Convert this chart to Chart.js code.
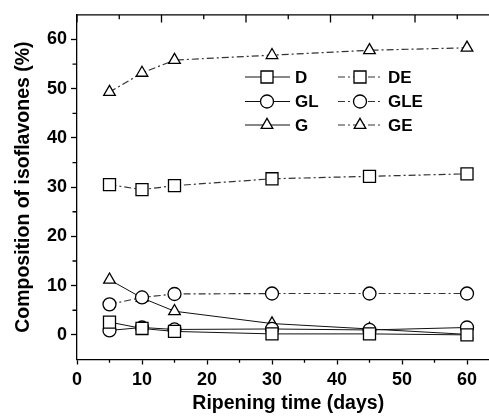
<!DOCTYPE html>
<html>
<head>
<meta charset="utf-8">
<title>Isoflavone composition during ripening</title>
<script src="https://cdn.jsdelivr.net/npm/chart.js@4.4.1/dist/chart.umd.min.js"></script>
<style>
  html, body { margin: 0; padding: 0; background: #fff; overflow: hidden; }
  canvas { display: block; }
</style>
</head>
<body>
<canvas id="isoChart" width="520" height="416"></canvas>
<script>
// Ripening time (days) and composition (%) of each isoflavone
const days = [5, 10, 15, 30, 45, 60];
const seriesD   = [2.6, 1.3, 0.7, 0.2, 0.2, 0.0];
const seriesDE  = [30.5, 29.5, 30.3, 31.7, 32.2, 32.7];
const seriesGL  = [0.9, 1.5, 1.1, 1.2, 1.0, 1.5];
const seriesGLE = [6.2, 7.6, 8.3, 8.4, 8.4, 8.4];
const seriesG   = [11.2, 7.5, 4.8, 2.3, 1.2, 0.1];
const seriesGE  = [49.3, 53.2, 55.8, 56.8, 57.8, 58.3];

const xTicks = [0, 10, 20, 30, 40, 50, 60];
const xMinorTicks = [5, 15, 25, 35, 45, 55];
const yTicks = [0, 10, 20, 30, 40, 50, 60];
const yMinorTicks = [5, 15, 25, 35, 45, 55];
// top frame ticks (in day units)
const topTicks = [0, 6.5, 13, 19.5, 26, 32.5, 39, 45.5, 52, 58.5, 65];

const FONT = '"Liberation Sans", Arial, Helvetica, sans-serif';
const DASH_DOT = [7, 3, 2, 3];

function makeSeries(label, values, style, dashed) {
    return {
        label,
        data: days.map((d, i) => ({ x: d, y: values[i] })),
        borderColor: dashed ? '#333' : '#111',
        borderWidth: dashed ? 1.2 : 1,
        borderDash: dashed ? DASH_DOT : [],
        pointStyle: style,
        pointRadius: style === 'rect' ? 8.5 : (style === 'triangle' ? 6.7 : 6.5),
        pointBorderWidth: 1.3,
        pointBorderColor: '#000',
        pointBackgroundColor: '#fff',
        tension: 0,
        fill: false
    };
}

const datasets = [
    makeSeries('D', seriesD, 'rect', false),
    makeSeries('DE', seriesDE, 'rect', true),
    makeSeries('GL', seriesGL, 'circle', false),
    makeSeries('GLE', seriesGLE, 'circle', true),
    makeSeries('G', seriesG, 'triangle', false),
    makeSeries('GE', seriesGE, 'triangle', true)
];

// marker shapes for the legend, same geometry as Chart.js point styles
function drawMarker(ctx, style, r, x, y) {
    ctx.beginPath();
    if (style === 'circle') {
        ctx.arc(x, y, r, 0, Math.PI * 2);
    } else if (style === 'rect') {
        const s = Math.SQRT1_2 * r;
        ctx.rect(x - s, y - s, 2 * s, 2 * s);
    } else {
        const a = Math.PI / 2;
        for (let k = 0; k < 3; k++) {
            const t = -a + k * 2 * Math.PI / 3;
            const px = x + Math.cos(t) * r;
            const py = y + Math.sin(t) * r;
            k === 0 ? ctx.moveTo(px, py) : ctx.lineTo(px, py);
        }
        ctx.closePath();
    }
    ctx.fillStyle = '#fff';
    ctx.fill();
    ctx.stroke();
}

const framePlugin = {
    id: 'frame',
    afterDraw(chart) {
        const { ctx, chartArea: a, scales: { x, y } } = chart;
        ctx.save();
        ctx.strokeStyle = '#000';
        ctx.lineWidth = 1.3;
        ctx.beginPath();
        ctx.moveTo(a.left - 0.6, a.top);
        ctx.lineTo(a.right, a.top);
        topTicks.forEach((v, i) => {
            const px = x.getPixelForValue(v);
            ctx.moveTo(px, a.top);
            ctx.lineTo(px, a.top + (i % 2 ? 4.4 : 7.7));
        });
        xMinorTicks.forEach(v => {
            const px = x.getPixelForValue(v);
            ctx.moveTo(px, a.bottom);
            ctx.lineTo(px, a.bottom + 3.3);
        });
        yMinorTicks.forEach(v => {
            const py = y.getPixelForValue(v);
            ctx.moveTo(a.left, py);
            ctx.lineTo(a.left - 4.5, py);
        });
        ctx.stroke();

        // legend: two columns, solid series left, ester series right
        const colX = [245, 338];
        const rowY = [77, 101.5, 125];
        ctx.font = 'bold 17px ' + FONT;
        ctx.textBaseline = 'middle';
        ctx.textAlign = 'left';
        chart.data.datasets.forEach((ds, i) => {
            const x0 = colX[i % 2];
            const yy = rowY[Math.floor(i / 2)];
            ctx.strokeStyle = ds.borderColor;
            ctx.lineWidth = ds.borderWidth;
            ctx.setLineDash(ds.borderDash);
            ctx.beginPath();
            ctx.moveTo(x0, yy);
            ctx.lineTo(x0 + 45, yy);
            ctx.stroke();
            ctx.setLineDash([]);
            ctx.strokeStyle = '#000';
            ctx.lineWidth = 1.3;
            drawMarker(ctx, ds.pointStyle, ds.pointRadius, x0 + 22, yy);
            ctx.fillStyle = '#000';
            ctx.fillText(ds.label, x0 + 50, yy + 1);
        });
        ctx.restore();
    }
};

new Chart(document.getElementById('isoChart'), {
    type: 'line',
    data: { datasets },
    options: {
        responsive: false,
        animation: false,
        devicePixelRatio: 1,
        layout: { padding: { left: 0, top: 12, right: 20.5, bottom: 0 } },
        plugins: {
            legend: { display: false },
            tooltip: { enabled: false }
        },
        scales: {
            x: {
                type: 'linear',
                min: 0,
                max: 65,
                afterBuildTicks: s => { s.ticks = xTicks.map(v => ({ value: v })); },
                afterFit: s => { s.height = 56.5; },
                border: { color: '#000', width: 1.3 },
                grid: { drawOnChartArea: false, tickLength: 5, tickColor: '#000', tickWidth: 1.3 },
                ticks: {
                    color: '#000',
                    padding: 4.5,
                    maxRotation: 0,
                    autoSkip: false,
                    font: { family: FONT, size: 18, weight: 'bold' }
                },
                title: {
                    display: true,
                    text: 'Ripening time (days)',
                    color: '#000',
                    padding: { top: 0, bottom: 1 },
                    font: { family: FONT, size: 19.5, weight: 'bold' }
                }
            },
            y: {
                min: -5,
                max: 65,
                afterBuildTicks: s => { s.ticks = yTicks.map(v => ({ value: v })); },
                afterFit: s => { s.width = 77; },
                border: { color: '#000', width: 1.3 },
                grid: { drawOnChartArea: false, tickLength: 6, tickColor: '#000', tickWidth: 1.3 },
                ticks: {
                    color: '#000',
                    padding: 4,
                    font: { family: FONT, size: 18, weight: 'bold' }
                },
                title: {
                    display: true,
                    text: 'Composition of isoflavones (%)',
                    color: '#000',
                    padding: { top: 12, bottom: 0 },
                    font: { family: FONT, size: 19.5, weight: 'bold' }
                }
            }
        }
    },
    plugins: [framePlugin]
});
</script>
</body>
</html>
